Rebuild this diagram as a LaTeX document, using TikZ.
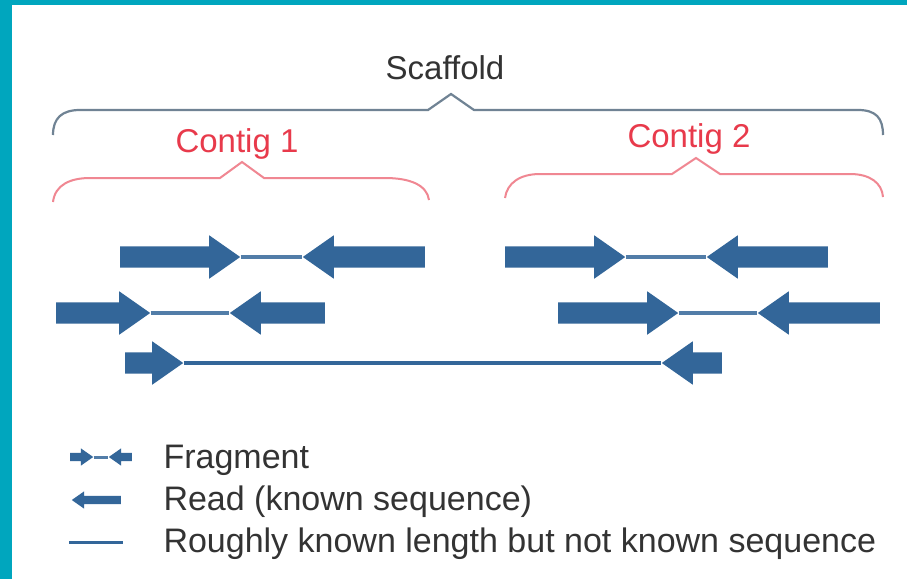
\documentclass[tikz,border=0pt]{standalone}
\usepackage{fontspec}
\setmainfont{Liberation Sans}
\usetikzlibrary{shapes.arrows}

\definecolor{framecyan}{RGB}{0,166,190}
\definecolor{readblue}{RGB}{51,102,153}
\definecolor{scafgray}{RGB}{112,131,148}
\definecolor{contigred}{RGB}{232,58,75}
\definecolor{contigpink}{RGB}{240,135,146}
\definecolor{textgray}{RGB}{51,51,51}

\begin{document}
\begin{tikzpicture}[x=1pt,y=-1pt,
     every node/.style={font=\fontsize{33}{40}\selectfont, text=textgray},
     read/.style={single arrow, fill=readblue, draw=none, inner xsep=0pt, inner ysep=10.5pt,
     single arrow head extend=11pt, single arrow tip angle=70, anchor=tail},
     minread/.style={read, inner ysep=4pt, single arrow head extend=4.5pt},
     back/.style={shape border rotate=180},
     gap/.style={readblue!85, line width=4pt},
     legendtext/.style={anchor=base west, font=\fontsize{34}{40}\selectfont},
     scafbrace/.style={scafgray, line width=2.2pt, line join=miter},
     contigbrace/.style={contigpink, line width=2pt, line join=miter}]
     \useasboundingbox (0,0) rectangle (907,579);
     \fill[framecyan] (0,0) rectangle (907,579);\fill[white] (12,5) rectangle (907,579);
     % scaffold and contig braces
     \node (scaf) [anchor=base] at (445,79) {Scaffold};
     \draw[scafbrace] (53,135) .. controls (53,118) and (62,110) .. (80,110) -- (428,110) -- (451,94)
          -- (474,110) -- (858,110) .. controls (876,110) and (883,118) .. (883,135);
     \node (c1) [anchor=base, text=contigred] at (237,152) {Contig 1};
     \node (c2) [anchor=base, text=contigred] at (689,147) {Contig 2};
     \draw[contigbrace] (53,202) .. controls (55,185) and (70,178) .. (90,178) -- (220,178) -- (242,162)
          -- (264,178) -- (385,178) .. controls (410,178) and (427,185) .. (429,200);
     \draw[contigbrace] (505,198) .. controls (507,183) and (520,174) .. (540,174) -- (672,174) -- (696,158)
          -- (720,174) -- (850,174) .. controls (870,174) and (882,183) .. (883,197);
     % read pairs
     \node (r1a) [read, minimum height=120pt] at (120,257) {};\node (r1b) [read, back, minimum height=122pt] at (425,257) {};
     \node (r2a) [read, minimum height=94pt] at (56,313) {};\node (r2b) [read, back, minimum height=95pt] at (325,313) {};
     \node (r3a) [read, minimum height=120pt] at (505,257) {};\node (r3b) [read, back, minimum height=121pt] at (828,257) {};
     \node (r4a) [read, minimum height=120pt] at (558,313) {};\node (r4b) [read, back, minimum height=122pt] at (880,313) {};
     \node (r5a) [read, minimum height=58pt] at (125,363) {};\node (r5b) [read, back, minimum height=60pt] at (722,363) {};
     \draw[gap] (r1a.tip) -- (r1b.tip);\draw[gap] (r2a.tip) -- (r2b.tip);\draw[gap] (r3a.tip) -- (r3b.tip);
     \draw[gap] (r4a.tip) -- (r4b.tip);\draw[gap, readblue] (r5a.tip) -- (r5b.tip);
     % legend
     \node (fa) [minread, minimum height=23pt] at (70,457) {};\node (fb) [minread, back, minimum height=23pt] at (132,457) {};
     \draw[gap, line width=3pt] (fa.tip) -- (fb.tip);
     \node (lr) [minread, back, minimum height=49pt] at (121,500) {};
     \coordinate (la) at (69,542);\coordinate (lb) at (123,542);\draw[gap, readblue, line width=3pt] (la) -- (lb);
     \node (t1) [legendtext] at (160,468) {Fragment};
     \node (t2) [legendtext] at (160,510) {Read (known sequence)};
     \node (t3) [legendtext] at (160,552) {Roughly known length but not known sequence};
\end{tikzpicture}
\end{document}
